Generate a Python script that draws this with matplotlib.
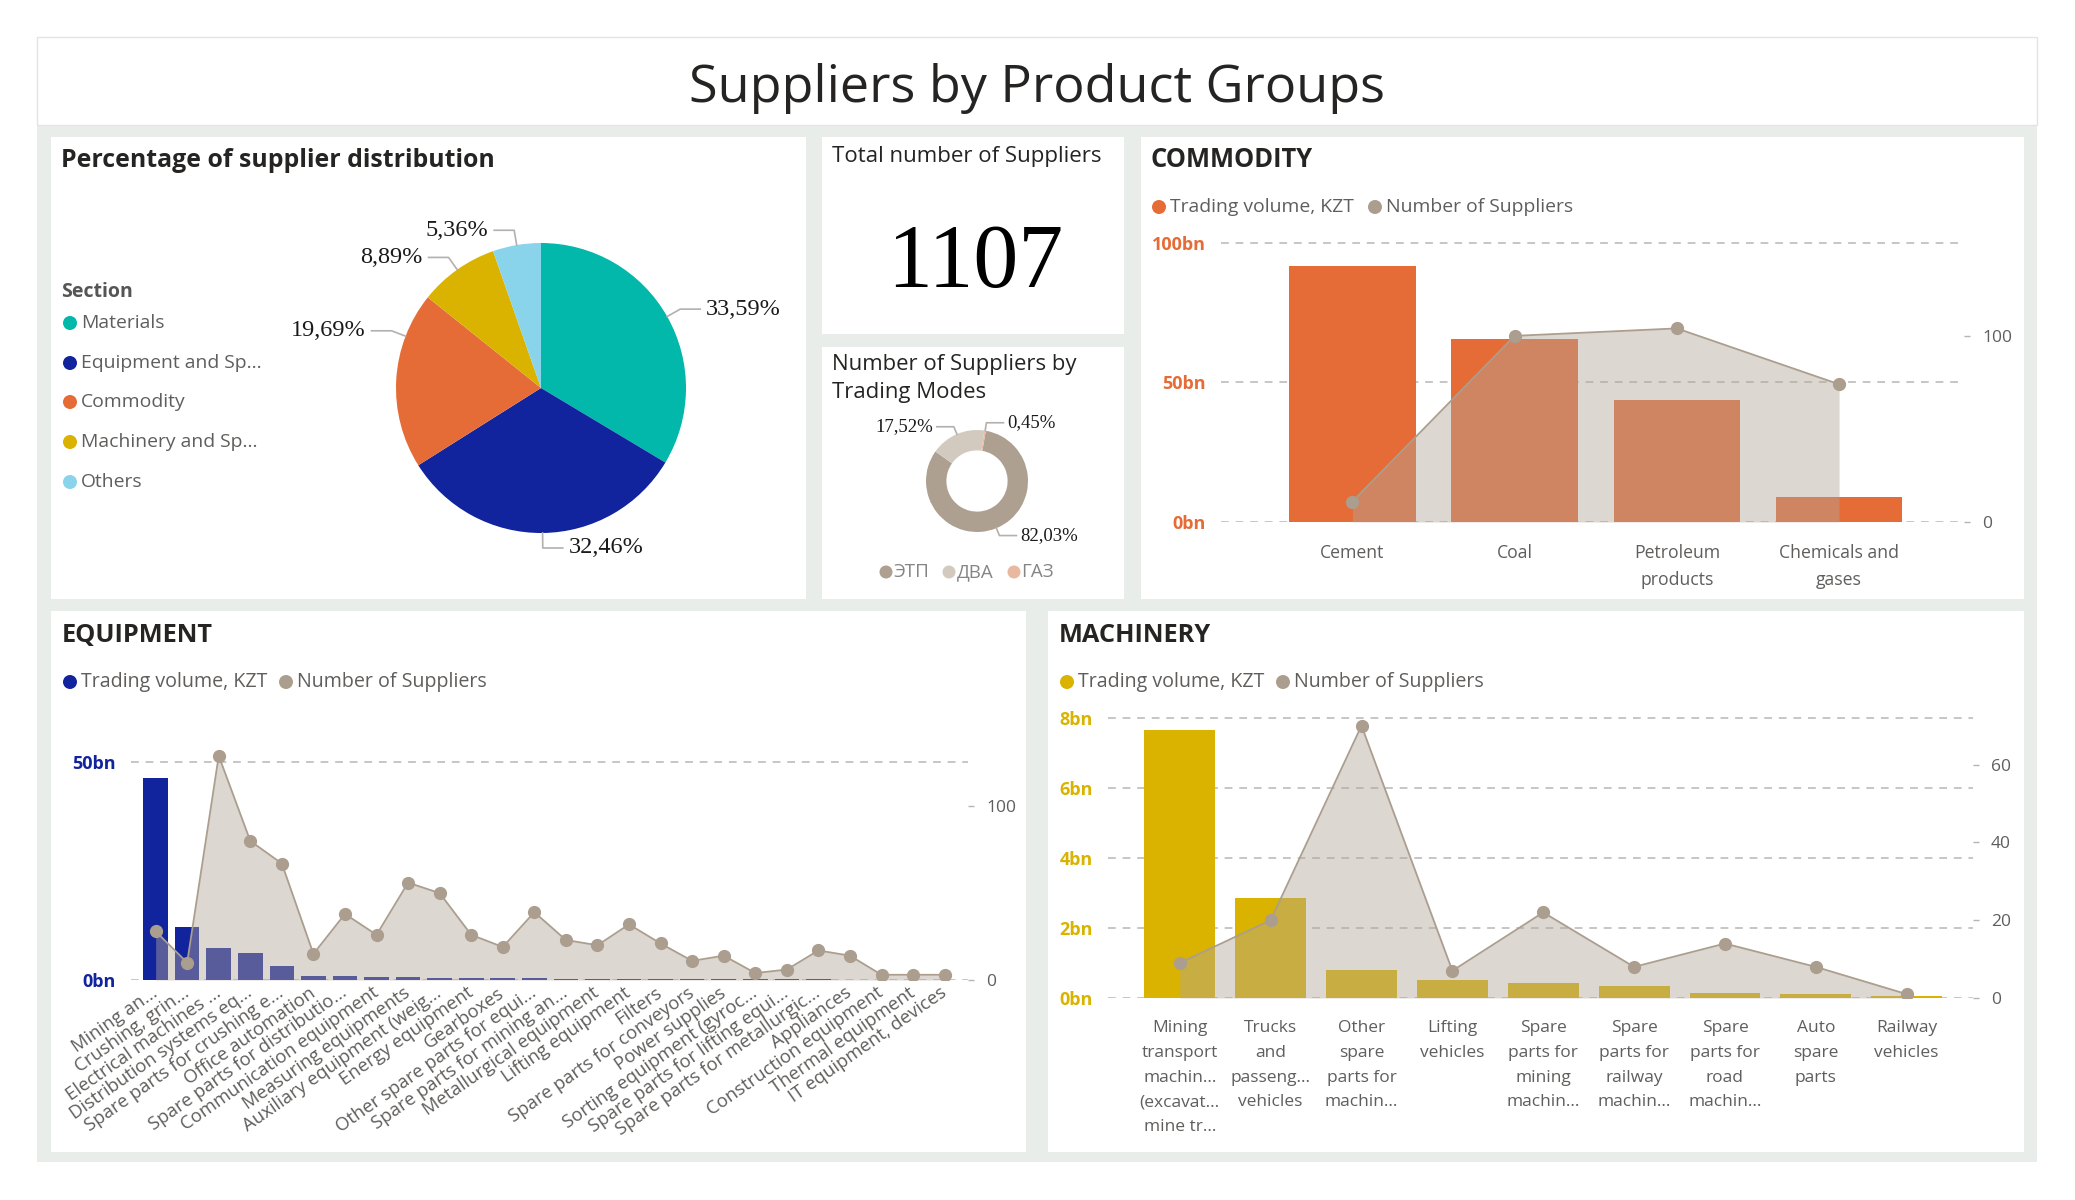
import numpy as np
import matplotlib
matplotlib.use("Agg")
import matplotlib.pyplot as plt
from matplotlib.patches import Rectangle, Circle

plt.rcParams['font.family'] = ['Open Sans', 'DejaVu Sans']
SERIF = ['Liberation Serif', 'DejaVu Serif']

# ---------------- data ----------------
sections = ["Materials", "Equipment and Sp...", "Commodity", "Machinery and Sp...", "Others"]
section_share = [33.59, 32.46, 19.69, 8.89, 5.36]
section_colors = ['#01B8AA', '#12239E', '#E66C37', '#D9B300', '#8AD4EB']

total_suppliers = 1107

modes = ["ЭТП", "ДВА", "ГАЗ"]
mode_share = [82.03, 17.52, 0.45]
mode_colors = ['#ADA091', '#D3CABF', '#E8B9A0']

commodity_cats = ["Cement", "Coal", "Petroleum\nproducts", "Chemicals and\ngases"]
commodity_volume = [91.6, 65.4, 43.8, 9.0]          # bn KZT
commodity_suppliers = [11, 100, 104, 74]

equipment_cats = ["Mining an...", "Crushing, grin...", "Electrical machines ...",
                  "Distribution systems eq...", "Spare parts for crushing e...", "Office automation",
                  "Spare parts for distributio...", "Communication equipment", "Measuring equipments",
                  "Auxiliary equipment (weig...", "Energy equipment", "Gearboxes",
                  "Other spare parts for equi...", "Spare parts for mining an...", "Metallurgical equipment",
                  "Lifting equipment", "Filters", "Spare parts for conveyors", "Power supplies",
                  "Sorting equipment (gyroc...", "Spare parts for lifting equi...",
                  "Spare parts for metallurgic...", "Appliances", "Construction equipment",
                  "Thermal equipment", "IT equipment, devices"]
equipment_volume = [46.2, 12.2, 7.3, 6.1, 3.3, 1.0, 0.9, 0.7, 0.6, 0.5, 0.45, 0.4, 0.35,
                    0.3, 0.3, 0.25, 0.25, 0.2, 0.2, 0.2, 0.15, 0.15, 0.1, 0.1, 0.1, 0.1]
equipment_suppliers = [28, 10, 129, 80, 67, 15, 38, 26, 56, 50, 26, 19, 39,
                       23, 20, 32, 21, 11, 14, 4, 6, 17, 14, 3, 3, 3]

machinery_cats = ["Mining\ntransport\nmachin...\n(excavat...\nmine tr...", "Trucks\nand\npasseng...\nvehicles",
                  "Other\nspare\nparts for\nmachin...", "Lifting\nvehicles", "Spare\nparts for\nmining\nmachin...",
                  "Spare\nparts for\nrailway\nmachin...", "Spare\nparts for\nroad\nmachin...",
                  "Auto\nspare\nparts", "Railway\nvehicles"]
machinery_volume = [7.63, 2.85, 0.81, 0.50, 0.44, 0.34, 0.13, 0.10, 0.06]
machinery_suppliers = [9, 20, 70, 7, 22, 8, 14, 8, 1]

# ---------------- canvas ----------------
W, H = 2075, 1200
fig = plt.figure(figsize=(W / 100, H / 100), dpi=100)
bg = fig.add_axes([0, 0, 1, 1])
bg.set_xlim(0, W)
bg.set_ylim(H, 0)
bg.axis('off')
renderer = fig.canvas.get_renderer()

DARK = '#252423'
GREY = '#605E5C'
GRID = '#C8C6C4'
AREA = '#B2A698'
LINE = '#AB9E8E'
LEAD = '#B3B0AD'


def box(x0, y0, x1, y1, color='white', **kw):
    bg.add_patch(Rectangle((x0, y0), x1 - x0, y1 - y0, facecolor=color, **kw))


def px_axes(x0, y0, x1, y1):
    ax = fig.add_axes([x0 / W, 1 - y1 / H, (x1 - x0) / W, (y1 - y0) / H])
    ax.set_facecolor('none')
    return ax


def fit(t, width):
    w = t.get_window_extent(renderer).width
    t.set_fontsize(t.get_fontsize() * width / w)
    return t


def label(x, y, s, width=None, size=14, **kw):
    kw.setdefault('color', GREY)
    t = bg.text(x, y, s, fontsize=size, **kw)
    if width:
        fit(t, width)
    return t


def legend_row(items, y, r=7, width=None):
    size = None
    for cx, color, s in items:
        bg.add_patch(Circle((cx, y), r, facecolor=color, edgecolor='none'))
        t = label(cx + r + 4, y, s, va='center')
        if size is None:
            if width:
                fit(t, width)
            size = t.get_fontsize()
        t.set_fontsize(size)


# frame and panels
box(37, 37, 2037, 1162, '#E9EDEA')
box(37, 37, 2037, 125, 'white', edgecolor='#E4E4E4', lw=1)
for b in [(51, 137, 806, 599), (822, 137, 1124, 334), (822, 347, 1124, 599),
          (1141, 137, 2024, 599), (51, 611, 1026, 1152), (1048, 611, 2024, 1152)]:
    box(*b)

label(1037, 102, "Suppliers by Product Groups", width=697, color=DARK, ha='center', va='baseline')

# panel titles
label(61, 167, "Percentage of supplier distribution", width=435, color=DARK, fontweight='bold')
label(1151, 167, "COMMODITY", width=163, color=DARK, fontweight='bold')
label(62, 642, "EQUIPMENT", width=152, color=DARK, fontweight='bold')
label(1059, 642, "MACHINERY", width=153, color=DARK, fontweight='bold')
label(832, 162, "Total number of Suppliers", width=270, color=DARK)
t1 = label(832, 370, "Number of Suppliers by", width=245, color=DARK)
label(832, 398, "Trading Modes", size=t1.get_fontsize(), color=DARK)


def pct(v):
    return f"{v:.2f}%".replace('.', ',')


def leaders(ax, values, start, r_px, ext, run, gap, size, shift=None):
    # leader lines + labels, in units of the pie radius
    total = sum(values)
    cum = 0
    for i, v in enumerate(values):
        mid = start - (cum + v / 2) / total * 360
        cum += v
        if shift:
            mid += shift[i]
        a = np.radians(mid)
        u = np.array([np.cos(a), np.sin(a)])
        p0, p1 = u, u * (1 + ext / r_px)
        side = 1 if u[0] >= -1e-9 else -1
        p2 = p1 + np.array([side * run / r_px, 0])
        ax.plot([p0[0], p1[0], p2[0]], [p0[1], p1[1], p2[1]], color=LEAD, lw=1.2, clip_on=False)
        ax.text(p2[0] + side * gap / r_px, p2[1], pct(v), ha='left' if side > 0 else 'right',
                va='center', family=SERIF, fontsize=size, color='#1A1A1A', clip_on=False)


# ---------------- pie ----------------
cx, cy, R = 541, 388, 145
pie_ax = px_axes(cx - 160, cy - 160, cx + 160, cy + 160)
pie_ax.pie(section_share, colors=section_colors, startangle=90, counterclock=False,
           radius=1, wedgeprops=dict(linewidth=0))
pie_ax.set_xlim(-160 / R, 160 / R)
pie_ax.set_ylim(-160 / R, 160 / R)
pie_ax.set_aspect('equal')
pie_ax.axis('off')
leaders(pie_ax, section_share, 90, R, 15, 20, 6, 17.5, shift=[0, 0, -17.7, 0, 0])

t = label(61, 297, "Section", width=72, color='#555555', fontweight='bold', va='baseline')
size = None
for i, (s, c) in enumerate(zip(sections, section_colors)):
    y = [323, 363, 402, 442, 482][i]
    bg.add_patch(Circle((70, y), 7, facecolor=c, edgecolor='none'))
    tt = label(81, y, s, va='center')
    if size is None:
        fit(tt, 84)
        size = tt.get_fontsize()
    tt.set_fontsize(size)

# ---------------- card ----------------
label(975, 287, str(total_suppliers), width=178, color='black', family=SERIF, ha='center', va='baseline')

# ---------------- donut ----------------
dx, dy, DR = 977, 481, 51
dn_ax = px_axes(dx - 60, dy - 60, dx + 60, dy + 60)
dn_ax.pie(mode_share, colors=mode_colors, startangle=80, counterclock=False,
          radius=1, wedgeprops=dict(width=0.4, linewidth=0))
dn_ax.set_xlim(-60 / DR, 60 / DR)
dn_ax.set_ylim(-60 / DR, 60 / DR)
dn_ax.set_aspect('equal')
dn_ax.axis('off')
leaders(dn_ax, mode_share, 80, DR, 8, 17, 4, 13.5)

size = None
for (px, s, c) in zip([886, 949, 1014], modes, mode_colors):
    bg.add_patch(Circle((px, 572), 6.5, facecolor=c, edgecolor='none'))
    tt = label(px + 7.5, 572, s, va='center', color='#858585')
    if size is None:
        fit(tt, 36)
        size = tt.get_fontsize()
    tt.set_fontsize(size)


# ---------------- combo charts ----------------
def combo(ax_box, cats, volume, suppliers, color, left_top, right_top, left_ticks, right_ticks,
          xpad, rot=0, xlab_pad=16, xfs=12.5, lsp=1.62):
    ax = px_axes(*ax_box)
    x = np.arange(len(cats))
    ax.bar(x, volume, width=0.78, color=color, zorder=2)
    ax.set_xlim(-xpad[0], len(cats) - 1 + xpad[1])
    ax.set_ylim(0, left_top)
    for v in left_ticks:
        ax.axhline(v, color=GRID, lw=1.4, ls=(0, (4, 3.5)), zorder=1)
    ax.set_yticks(left_ticks)
    ax.set_yticklabels([f"{v:g}bn" for v in left_ticks], color=color, fontweight='bold', fontsize=13)
    ax.tick_params(axis='y', length=0, pad=11)
    ax.set_xticks(x)
    if rot:
        ax.set_xticklabels(cats, rotation=rot, ha='right', va='center', rotation_mode='anchor',
                           fontsize=xfs, color=GREY)
    else:
        ax.set_xticklabels(cats, fontsize=xfs, color=GREY, linespacing=lsp, va='top')
    ax.tick_params(axis='x', length=0, pad=xlab_pad)
    for s in ax.spines.values():
        s.set_visible(False)
    ax2 = ax.twinx()
    ax2.fill_between(x, suppliers, color=AREA, alpha=0.44, lw=0, zorder=3)
    ax2.plot(x, suppliers, color=LINE, lw=1.3, marker='o', ms=8.5, zorder=4)
    ax2.set_ylim(0, right_top)
    ax2.set_yticks(right_ticks)
    ax2.tick_params(axis='y', length=4, width=1, color='#B5B5B5', pad=9, labelsize=12.5, labelcolor=GREY)
    for s in ax2.spines.values():
        s.set_visible(False)
    return ax


# commodity
combo((1221, 240, 1964, 522), commodity_cats, commodity_volume, commodity_suppliers, '#E66C37',
      101, 151.5, [0, 50, 100], [0, 100], (0.81, 0.77), xlab_pad=16, xfs=12.7, lsp=1.62)
legend_row([(1159, '#E66C37', "Trading volume, KZT"), (1375, LINE, "Number of Suppliers")], 207, width=185)

# equipment
combo((131, 745, 968, 980), equipment_cats, equipment_volume, equipment_suppliers, '#12239E',
      53.8, 135.2, [0, 50], [0, 100], (0.78, 0.74), rot=35, xlab_pad=8, xfs=13.3)
legend_row([(70, '#12239E', "Trading volume, KZT"), (286, LINE, "Number of Suppliers")], 682, width=187)

# machinery
combo((1108, 714, 1973, 998), machinery_cats, machinery_volume, machinery_suppliers, '#D9B300',
      8.1, 73.0, [0, 2, 4, 6, 8], [0, 20, 40, 60], (0.79, 0.73), xlab_pad=16, xfs=12.5, lsp=1.72)
legend_row([(1067, '#D9B300', "Trading volume, KZT"), (1283, LINE, "Number of Suppliers")], 682, width=188)

fig.savefig("out.png", dpi=100)
